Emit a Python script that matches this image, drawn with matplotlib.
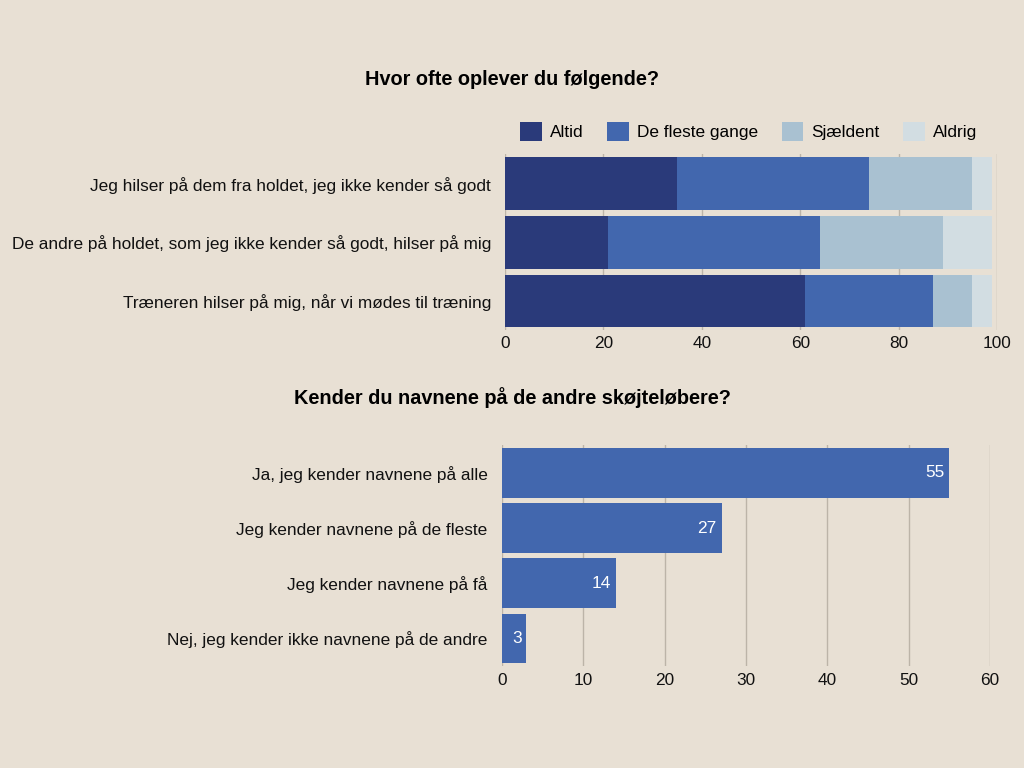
import matplotlib
matplotlib.use("Agg")
import matplotlib.pyplot as plt
import numpy as np

plt.rcParams["font.family"] = ["Liberation Sans", "DejaVu Sans"]

BG = "#e8e0d4"
GRID = "#bcb4a8"

# top chart data
questions = [
    "Jeg hilser på dem fra holdet, jeg ikke kender så godt",
    "De andre på holdet, som jeg ikke kender så godt, hilser på mig",
    "Træneren hilser på mig, når vi mødes til træning",
]
series_names = ["Altid", "De fleste gange", "Sjældent", "Aldrig"]
altid = [35, 21, 61]
fleste = [39, 43, 26]
sjaeldent = [21, 25, 8]
aldrig = [4, 10, 4]
series_colors = ["#2a3a7a", "#4267ae", "#a9c1d1", "#d2dde2"]

# bottom chart data
names_labels = [
    "Ja, jeg kender navnene på alle",
    "Jeg kender navnene på de fleste",
    "Jeg kender navnene på få",
    "Nej, jeg kender ikke navnene på de andre",
]
names_values = [55, 27, 14, 3]

FS = 12.4

fig = plt.figure(figsize=(10.24, 7.68), dpi=100)
fig.patch.set_facecolor(BG)

# ---- top stacked chart
ax1 = fig.add_axes([0.4932, 0.570, 0.4805, 0.229])
ax1.set_facecolor(BG)
y1 = np.arange(len(questions))
left = np.zeros(len(questions))
for name, vals, col in zip(series_names, [altid, fleste, sjaeldent, aldrig], series_colors):
    ax1.barh(y1, vals, left=left, height=0.9, color=col, label=name, zorder=2)
    left += np.array(vals)
ax1.set_xlim(0, 100)
ax1.set_ylim(2.5, -0.5)
ax1.set_xticks([0, 20, 40, 60, 80, 100])
ax1.set_yticks(y1)
ax1.set_yticklabels(questions, fontsize=FS)
ax1.tick_params(axis="both", length=0, labelsize=FS, colors="#111111")
ax1.tick_params(axis="y", pad=10)
ax1.tick_params(axis="x", pad=4)
ax1.grid(axis="x", color=GRID, linewidth=1, zorder=0)
for s in ax1.spines.values():
    s.set_visible(False)
ax1.legend(loc="lower center", bbox_to_anchor=(0.495, 0.99), ncol=4, frameon=False,
           fontsize=FS, handlelength=1.25, handleheight=1.25, columnspacing=1.4,
           handletextpad=0.45)
fig.text(0.5, 0.897, "Hvor ofte oplever du følgende?", ha="center", va="center",
         fontsize=14.3, fontweight="bold")

# ---- bottom bar chart
ax2 = fig.add_axes([0.4902, 0.133, 0.4766, 0.287])
ax2.set_facecolor(BG)
y2 = np.arange(len(names_labels))
ax2.barh(y2, names_values, height=0.9, color="#4267ae", zorder=2)
for yy, v in zip(y2, names_values):
    ax2.text(v - 0.6, yy, str(v), ha="right", va="center", color="white",
             fontsize=FS, zorder=3)
ax2.set_xlim(0, 60)
ax2.set_ylim(3.5, -0.5)
ax2.set_xticks([0, 10, 20, 30, 40, 50, 60])
ax2.set_yticks(y2)
ax2.set_yticklabels(names_labels, fontsize=FS)
ax2.tick_params(axis="both", length=0, labelsize=FS, colors="#111111")
ax2.tick_params(axis="y", pad=10.5)
ax2.tick_params(axis="x", pad=5)
ax2.grid(axis="x", color=GRID, linewidth=1, zorder=0)
for s in ax2.spines.values():
    s.set_visible(False)
fig.text(0.5, 0.483, "Kender du navnene på de andre skøjteløbere?", ha="center",
         va="center", fontsize=14.3, fontweight="bold")

fig.savefig("out.png", dpi=100, facecolor=BG)
